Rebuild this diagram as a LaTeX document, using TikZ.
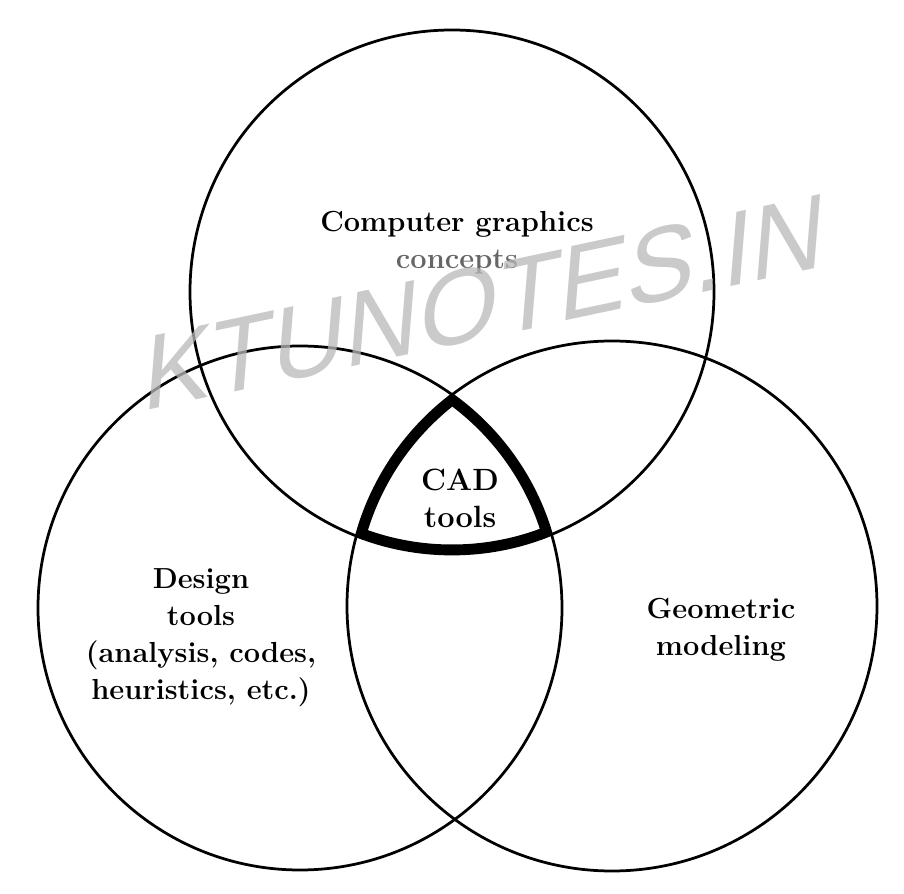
\documentclass[tikz,border=0pt]{standalone}
\usepackage{fontspec}
\newfontfamily\markfont{Liberation Sans}
\usepackage{tikz}
\tikzset{
  venn/.style={line width=0.55mm}, % thin circle outline
  cad rim/.style={line width=3.8mm}, % only the inner half is kept by the clip
  region/.style={font=\fontsize{16.5}{21}\selectfont\bfseries,align=center,inner sep=0pt},
  mark text/.style={font=\markfont\fontsize{59}{59}\selectfont,text=black!28,text opacity=0.75,
    rotate=12,xslant=0.3,transform shape}
}

\begin{document}
\begin{tikzpicture}[x=0.2mm,y=0.2mm]
\useasboundingbox (0,0) rectangle (904,894);

% circle centres
\coordinate (ctop) at (452,602);
\coordinate (cleft) at (300,286);
\coordinate (cright) at (612,288);

% -------- Circles --------
\draw[venn] (ctop) circle (262);
\draw[venn] (cleft) circle (262);
\draw[venn] (cright) circle (265);

% -------- CAD tools region --------
\begin{scope}
  \clip (ctop) circle (262);
  \clip (cleft) circle (262);
  \clip (cright) circle (265);
  \draw[cad rim] (ctop) circle (262) (cleft) circle (262) (cright) circle (265);
\end{scope}

% Labels
\node[region] (graphics) at (457,651) {Computer graphics\\{\color{black!60}concepts}};
\node[region,font=\fontsize{17.5}{21}\selectfont\bfseries] (cad) at (460,396) {CAD\\tools};
\node[region] (design) at (201,256) {Design\\tools\\(analysis, codes,\\heuristics, etc.)};
\node[region] (geometric) at (721,264) {Geometric\\modeling};

% Watermark
\node[mark text] (mark) at (485,592) {KTUNOTES.IN};

\end{tikzpicture}
\end{document}
